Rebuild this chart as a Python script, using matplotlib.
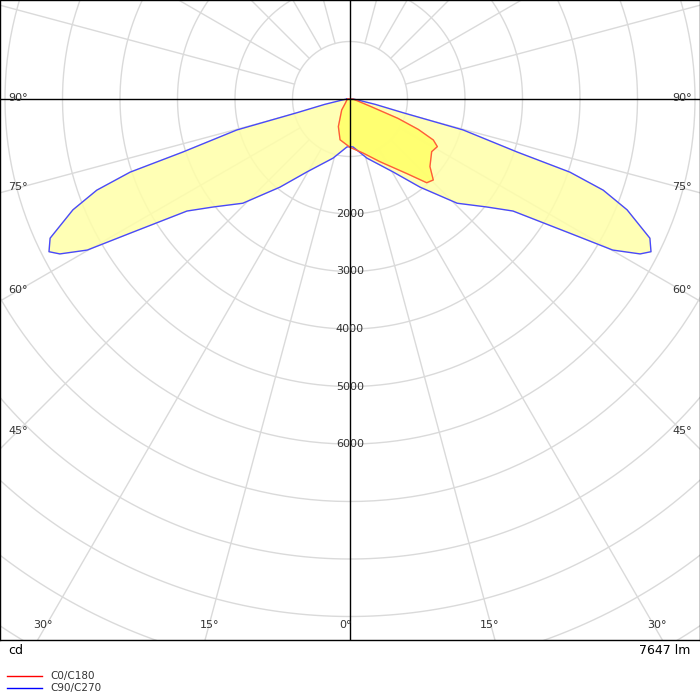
import numpy as np
import matplotlib
matplotlib.use("Agg")
import matplotlib.pyplot as plt

# C90/C270 (symmetric), gamma in degrees -> cd
c90_angles = [0, 3.6, 16, 30.5, 38.5, 45.8, 51.7, 55.5, 58.6, 60.1, 61.9, 63.1, 65.1, 68.2, 70.2, 71.6, 72.4, 74.7, 75.5, 78, 82, 86, 90]
c90_values = [830, 835, 1070, 1470, 1960, 2600, 3030, 3440, 4480, 5270, 5720, 5870, 5750, 5190, 4680, 4030, 3050, 2040, 950, 450, 150, 80, 50]
# C0 (right side)
c0_angles = [0, 13.8, 25.6, 37.3, 42.5, 45.8, 49.8, 57.2, 61.4, 63.8, 66, 68, 70, 75, 90]
c0_values = [840, 970, 1210, 1630, 1975, 2020, 1820, 1690, 1730, 1615, 1300, 900, 400, 150, 50]
# C180 (left side)
c180_angles = [0, 13.7, 22.9, 37, 50, 70, 90]
c180_values = [840, 730, 520, 240, 100, 60, 40]

rings = [1000, 2000, 3000, 4000, 5000, 6000, 7000, 8000, 9000, 10000, 11000, 12000]
ring_labels = [2000, 3000, 4000, 5000, 6000]
side_labels = [90, 75, 60, 45]
bottom_labels = [30, 15, 0]

S = 1000 / 57.5  # cd per pixel
fig = plt.figure(figsize=(7, 7), dpi=100)
ax = fig.add_axes([0, 60 / 700, 1, 640 / 700])
X0, X1 = -350 * S, 350 * S
Y0, Y1 = -541 * S, 99 * S
ax.set_xlim(X0, X1)
ax.set_ylim(Y0, Y1)
ax.set_xticks([]); ax.set_yticks([])
for sp in ax.spines.values():
    sp.set_color('black'); sp.set_linewidth(1)

grid = '#dadada'
t = np.linspace(0, 2 * np.pi, 400)
for r in rings:
    ax.plot(r * np.cos(t), r * np.sin(t), color=grid, lw=1, zorder=1)
for a in range(0, 360, 15):
    if a % 90 == 0:
        continue
    ar = np.radians(a)
    ax.plot([1000 * np.sin(ar), 13000 * np.sin(ar)], [-1000 * np.cos(ar), -13000 * np.cos(ar)], color=grid, lw=1, zorder=1)
ax.axhline(0, color='black', lw=1, zorder=4)
ax.axvline(0, color='black', lw=1, zorder=4)

def poly(ra, rv, la, lv):
    ra = np.radians(ra); la = np.radians(la)
    xs = list(-np.array(lv)[::-1] * np.sin(la[::-1])) + list(np.array(rv) * np.sin(ra))
    ys = list(-np.array(lv)[::-1] * np.cos(la[::-1])) + list(-np.array(rv) * np.cos(ra))
    return xs, ys

bx, by = poly(c90_angles, c90_values, c90_angles, c90_values)
ax.fill(bx, by, color='#ffffa8', alpha=0.85, zorder=2)
ax.plot(bx + [bx[0]], by + [by[0]], color='#4848ff', lw=1, zorder=3)
rx, ry = poly(c0_angles, c0_values, c180_angles, c180_values)
ax.fill(rx, ry, color='#ffff66', alpha=0.85, zorder=2.5)
ax.plot(rx + [rx[0]], ry + [ry[0]], color='#ff5a3c', lw=1, zorder=3)

for v in ring_labels:
    ax.text(0, -v, str(v), ha='center', va='center', fontsize=8, color='#333333', zorder=5)
offs = {90: 1, 75: 6, 60: 11, 45: 18}
for a in side_labels:
    ar = np.radians(a)
    yy = -X1 / np.tan(ar) if a != 90 else 0
    for sgn in (-1, 1):
        ax.text(sgn * (X1 - 18 * S), yy + offs[a] * S, f"{a}°", ha='center', va='center', fontsize=8, color='#333333', zorder=5)
for a in bottom_labels:
    ar = np.radians(a)
    xx = -Y0 * np.tan(ar)
    for sgn in ((-1, 1) if a else (1,)):
        ax.text(sgn * (xx - 5 * S), Y0 + 15 * S, f"{a}°", ha='center', va='center', fontsize=8, color='#333333', zorder=5)

fig.text(8 / 700, 1 - 651 / 700, 'cd', fontsize=9, va='center', ha='left')
fig.text(690 / 700, 1 - 651 / 700, '7647 lm', fontsize=9, va='center', ha='right')
fig.add_artist(plt.Line2D([7 / 700, 42 / 700], [1 - 676 / 700] * 2, color='red', lw=1))
fig.add_artist(plt.Line2D([7 / 700, 42 / 700], [1 - 688 / 700] * 2, color='blue', lw=1))
fig.text(50 / 700, 1 - 676 / 700, 'C0/C180', fontsize=7.5, va='center', color='#333333')
fig.text(50 / 700, 1 - 688 / 700, 'C90/C270', fontsize=7.5, va='center', color='#333333')
fig.savefig('out.png', dpi=100)
